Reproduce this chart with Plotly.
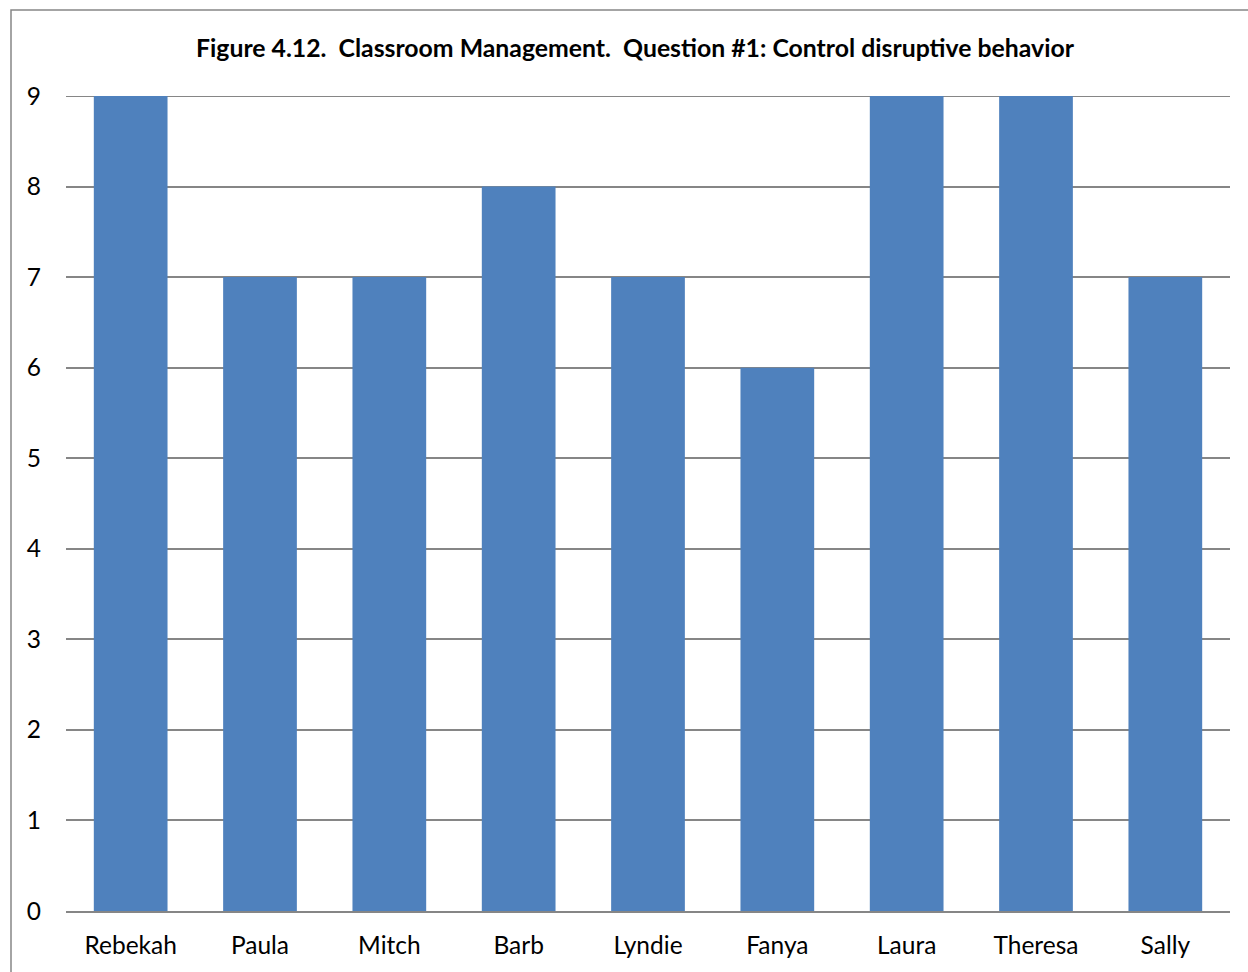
import plotly.graph_objects as go

names = ["Rebekah", "Paula", "Mitch", "Barb", "Lyndie", "Fanya", "Laura", "Theresa", "Sally"]
scores = [9, 7, 7, 8, 7, 6, 9, 9, 7]
y_ticks = [0, 1, 2, 3, 4, 5, 6, 7, 8, 9]

W, H = 1248, 972
L, R, T, B = 66, 18, 96, 61
pw, ph = W - L - R, H - T - B

fig = go.Figure(go.Bar(
    x=names, y=scores,
    marker=dict(color="#4F81BD", line=dict(width=0)),
    width=0.57,
))

# outer chart border (runs past the right and bottom edges)
bx0, by0 = 11, 10
bx1, by1 = W + 20, H + 20
fig.add_shape(
    type="rect", xref="paper", yref="paper",
    x0=(bx0 - L) / pw, x1=(bx1 - L) / pw,
    y0=(H - B - by1) / ph, y1=(H - B - by0) / ph,
    line=dict(color="#868686", width=1.5), fillcolor="rgba(0,0,0,0)", layer="below",
)

# top gridline sits on the edge of the value range
fig.add_shape(
    type="line", xref="paper", yref="y", x0=0, x1=1, y0=max(y_ticks), y1=max(y_ticks),
    line=dict(color="#868686", width=2), layer="below",
)

fig.update_layout(
    width=W, height=H,
    margin=dict(l=L, r=R, t=T, b=B),
    paper_bgcolor="white", plot_bgcolor="white",
    font=dict(family="Lato, Carlito, sans-serif", color="#000000", size=24),
    title=dict(
        text="<b>Figure 4.12.  Classroom Management.  Question #1: Control disruptive behavior</b>",
        x=635 / W, xanchor="center", y=1 - 48 / H, yanchor="middle",
        font=dict(size=24.8, family="Lato, sans-serif"),
    ),
    showlegend=False,
    xaxis=dict(
        showgrid=False, showline=True, linecolor="#868686", linewidth=2,
        ticks="", tickfont=dict(size=24.5), ticklabelstandoff=12,
    ),
    yaxis=dict(
        range=[0, 9], tickvals=y_ticks, showgrid=True, gridcolor="#868686", gridwidth=2,
        zeroline=False, showline=False, ticks="", tickfont=dict(size=24.5),
        ticklabelstandoff=24,
    ),
)

fig.write_html("out.html")
